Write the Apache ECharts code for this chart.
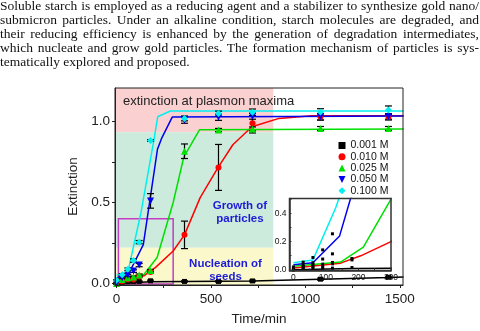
<!DOCTYPE html>
<html lang="en">
<head>
<meta charset="UTF-8">
<title>Extinction vs time</title>
<script src="https://cdn.jsdelivr.net/npm/echarts@6/dist/echarts.min.js"></script>
<style>
  body { margin: 0; background: #fff; }
  #wrap { position: relative; width: 480px; height: 331px; overflow: hidden; }
  #main { position: absolute; left: 0; top: 0; width: 480px; height: 331px; }
  #abstract { position: absolute; left: 0; top: -1px; width: 479px; font-family: "Liberation Serif", "DejaVu Serif", serif;
    font-size: 13.5px; line-height: 14px; color: #111; pointer-events: none; }
  #abstract div { white-space: nowrap; text-align: justify; text-align-last: justify; }
  #abstract div.last { text-align-last: left; }
</style>
</head>
<body>
<div id="wrap">
  <div id="main"></div>
  <div id="abstract">
    <div>Soluble starch is employed as a reducing agent and a stabilizer to synthesize gold nano/</div>
    <div>submicron particles. Under an alkaline condition, starch molecules are degraded, and</div>
    <div>their reducing efficiency is enhanced by the generation of degradation intermediates,</div>
    <div>which nucleate and grow gold particles. The formation mechanism of particles is sys-</div>
    <div class="last">tematically explored and proposed.</div>
  </div>
</div>
<script type="text/javascript">
// sampling times (min)
var times = [0, 30, 60, 90, 120, 180, 360, 540, 720, 1080, 1440];
var names = ['0.001 M', '0.010 M', '0.025 M', '0.050 M', '0.100 M'];

// measured extinction, one array per concentration
var ext001 = [0.0, 0.005, 0.010, 0.012, 0.012, 0.016, 0.012, 0.012, 0.015, 0.026, 0.038];
var ext010 = [0.0, 0.012, 0.024, 0.024, 0.042, 0.070, 0.300, 0.717, 0.990, 1.030, 1.030];
var ext025 = [0.0, 0.024, 0.035, 0.040, 0.052, 0.080, 0.817, 0.948, 0.955, 0.958, 0.958];
var ext050 = [0.0, 0.035, 0.050, 0.076, 0.113, 0.510, 1.010, 1.028, 1.035, 1.030, 1.030];
var ext100 = [0.02, 0.054, 0.087, 0.141, 0.255, 0.884, 1.020, 1.050, 1.058, 1.060, 1.072];

// error (half width)
var err001 = [0.003, 0.003, 0.003, 0.003, 0.003, 0.004, 0.004, 0.004, 0.005, 0.006, 0.006];
var err010 = [0.003, 0.004, 0.004, 0.005, 0.005, 0.006, 0.085, 0.142, 0.060, 0.020, 0.020];
var err025 = [0.003, 0.004, 0.004, 0.005, 0.006, 0.006, 0.045, 0.010, 0.012, 0.012, 0.012];
var err050 = [0.003, 0.005, 0.006, 0.008, 0.010, 0.045, 0.020, 0.020, 0.020, 0.020, 0.015];
var err100 = [0.003, 0.006, 0.008, 0.010, 0.010, 0.005, 0.015, 0.015, 0.020, 0.020, 0.025];

// fitted curves [time, extinction]
var fit001 = [[0, 0.0], [180, 0.010], [360, 0.012], [720, 0.015], [1080, 0.026], [1440, 0.037], [1520, 0.040]];
var fit010 = [[0, 0.012], [145, 0.047], [207, 0.099], [300, 0.20], [360, 0.30], [443, 0.53], [538, 0.717],
              [616, 0.857], [717, 0.968], [860, 1.020], [1033, 1.036], [1520, 1.037]];
var fit025 = [[0, 0.025], [145, 0.055], [215, 0.16], [300, 0.50], [356, 0.78], [440, 0.95], [1520, 0.955]];
var fit050 = [[0, 0.035], [60, 0.05], [142, 0.24], [217, 0.83], [240, 0.90], [295, 1.028], [1520, 1.035]];
var fit100 = [[0, 0.05], [60, 0.07], [130, 0.44], [200, 0.90], [218, 1.03], [285, 1.066], [1520, 1.066]];

// shaded stages and the zoomed box
var stageBreaks = [0.22, 0.935];
var stageEnd = 830;
var zoomBox = [10, 300, -0.004, 0.40];

var xMin = -8, xMax = 1517, yMin = -0.01, yMax = 1.208;

var colors = ['#000000', '#ff0000', '#00e000', '#0000f0', '#00f0f0'];
var symbols = ['rect', 'circle', 'triangle', 'path://M0,0L10,0L5,10Z', 'diamond'];
var sizes = [5, 6, 7, 7, 7];
var exts = [ext001, ext010, ext025, ext050, ext100];
var errs = [err001, err010, err025, err050, err100];
var fits = [fit001, fit010, fit025, fit050, fit100];

var myChart = echarts.init(document.getElementById('main'));

function renderErr(params, api) {
    var x = api.value(0);
    var hi = api.coord([x, api.value(2)]);
    var lo = api.coord([x, api.value(1)]);
    var w = 3.5;
    var st = { stroke: '#000', lineWidth: 1.2 };
    return {
        type: 'group',
        children: [
            { type: 'line', shape: { x1: hi[0], y1: hi[1], x2: lo[0], y2: lo[1] }, style: st },
            { type: 'line', shape: { x1: hi[0] - w, y1: hi[1], x2: hi[0] + w, y2: hi[1] }, style: st },
            { type: 'line', shape: { x1: lo[0] - w, y1: lo[1], x2: lo[0] + w, y2: lo[1] }, style: st }
        ]
    };
}

var series = [];
var insetPts = [];
for (var i = 0; i < 5; i++) {
    var line = {
        type: 'line', data: fits[i], showSymbol: false, silent: true, z: 2,
        lineStyle: { color: colors[i], width: 1.5 }
    };
    if (i === 0) {
        // background stages + magenta box
        line.markArea = {
            silent: true, label: { show: false },
            data: [
                [{ xAxis: xMin, yAxis: stageBreaks[1], itemStyle: { color: '#fbd0d0' } }, { xAxis: stageEnd, yAxis: yMax }],
                [{ xAxis: xMin, yAxis: stageBreaks[0], itemStyle: { color: '#cdebdc' } }, { xAxis: stageEnd, yAxis: stageBreaks[1] }],
                [{ xAxis: xMin, yAxis: yMin, itemStyle: { color: '#fbf8cc' } }, { xAxis: stageEnd, yAxis: stageBreaks[0] }],
                [{ xAxis: zoomBox[0], yAxis: zoomBox[2], itemStyle: { color: 'rgba(0,0,0,0)', borderColor: '#c43cc4', borderWidth: 1.5 } },
                 { xAxis: zoomBox[1], yAxis: zoomBox[3] }]
            ]
        };
    }
    series.push(line);
    series.push({
        type: 'custom', silent: true, z: 3,
        renderItem: renderErr,
        encode: { x: 0, y: [1, 2] },
        data: times.map(function (t, j) { return [t, exts[i][j] - errs[i][j], exts[i][j] + errs[i][j]]; })
    });
    series.push({
        type: 'scatter', name: names[i], z: 4, silent: true,
        symbol: symbols[i], symbolSize: sizes[i],
        itemStyle: { color: colors[i], opacity: 1 },
        data: times.map(function (t, j) { return [t, exts[i][j]]; })
    });
    // inset
    series.push({
        type: 'line', xAxisIndex: 1, yAxisIndex: 1, data: fits[i], showSymbol: false, silent: true, z: 2,
        lineStyle: { color: colors[i], width: 1.5 }
    });
    times.forEach(function (t, j) {
        if (t <= 300 && exts[i][j] <= 0.5) insetPts.push([t, exts[i][j]]);
    });
}
series.push({
    type: 'scatter', xAxisIndex: 1, yAxisIndex: 1, data: insetPts, silent: true, z: 4,
    symbol: 'rect', symbolSize: 3, itemStyle: { color: '#000', opacity: 1 }
});

var lab = { fontFamily: 'Liberation Sans', color: '#222' };

var option = {
    animation: false,
    grid: [
        { left: 115, top: 88, width: 288, height: 202.7, show: true, borderColor: '#222', borderWidth: 1, z: 5, backgroundColor: 'transparent' },
        { left: 289.5, top: 198.5, width: 101.5, height: 72, show: true, borderColor: '#333', borderWidth: 1.5, z: 5, backgroundColor: 'transparent' }
    ],
    xAxis: [
        {
            type: 'value', gridIndex: 0, min: xMin, max: xMax, z: 6,
            name: 'Time/min', nameLocation: 'middle', nameGap: 27,
            nameTextStyle: { fontFamily: 'Liberation Sans', fontSize: 13.5, color: '#222' },
            axisLine: { onZero: false, lineStyle: { color: '#222', width: 1 } },
            axisTick: { inside: false, length: 3, customValues: [0, 250, 500, 750, 1000, 1250, 1500], lineStyle: { color: '#222' } },
            axisLabel: Object.assign({ fontSize: 13.5, margin: 7, customValues: [0, 500, 1000, 1500],
                formatter: function (v) { return String(v); } }, lab),
            splitLine: { show: false }
        },
        {
            type: 'value', gridIndex: 1, min: -12, max: 300, z: 8,
            axisLine: { onZero: false, lineStyle: { color: '#333', width: 1.5 } },
            axisTick: { inside: true, length: 2, customValues: [0, 50, 100, 150, 200, 250, 300], lineStyle: { color: '#333' } },
            axisLabel: { fontFamily: 'Liberation Sans', color: '#111', fontSize: 8.5, margin: 3, customValues: [0, 100, 200, 300],
                hideOverlap: false, formatter: function (v) { return String(v); } },
            splitLine: { show: false }
        }
    ],
    yAxis: [
        {
            type: 'value', gridIndex: 0, min: yMin, max: yMax, z: 6,
            name: 'Extinction', nameLocation: 'middle', nameGap: 33.5,
            nameTextStyle: { fontFamily: 'Liberation Sans', fontSize: 13.5, color: '#222' },
            axisLine: { onZero: false, lineStyle: { color: '#222', width: 1 } },
            axisTick: { inside: false, length: 3, customValues: [0, 0.25, 0.5, 0.75, 1.0], lineStyle: { color: '#222' } },
            axisLabel: Object.assign({ fontSize: 13.5, margin: 5, customValues: [0, 0.5, 1.0],
                formatter: function (v) { return v.toFixed(1); } }, lab),
            splitLine: { show: false }
        },
        {
            type: 'value', gridIndex: 1, min: -0.005, max: 0.505, z: 8,
            axisLine: { onZero: false, lineStyle: { color: '#333', width: 1.5 } },
            axisTick: { inside: true, length: 2, customValues: [0, 0.1, 0.2, 0.3, 0.4, 0.5], lineStyle: { color: '#333' } },
            axisLabel: { fontFamily: 'Liberation Sans', color: '#111', fontSize: 8.5, margin: 3, customValues: [0, 0.2, 0.4],
                formatter: function (v) { return v.toFixed(1); } },
            splitLine: { show: false }
        }
    ],
    legend: {
        orient: 'vertical', left: 338.5, top: 140,
        itemWidth: 7, itemHeight: 7, itemGap: 0.3,
        textStyle: { fontFamily: 'Liberation Sans', fontSize: 10.5, color: '#111', padding: 0 },
        padding: 0,
        data: names.map(function (n, i) { return { name: n, icon: symbols[i] }; })
    },
    graphic: [
        { type: 'text', z: 10, style: { x: 123, y: 101, text: 'extinction at plasmon maxima', fill: '#222',
            font: '13px "Liberation Sans"', verticalAlign: 'middle' } },
        { type: 'text', z: 10, style: { x: 240, y: 212.5, text: 'Growth of\nparticles', fill: '#1c1cd8',
            font: 'bold 11.5px "Liberation Sans"', align: 'center', verticalAlign: 'middle', lineHeight: 13.3 } },
        { type: 'text', z: 10, style: { x: 225.5, y: 270, text: 'Nucleation of\nseeds', fill: '#1c1cd8',
            font: 'bold 11.5px "Liberation Sans"', align: 'center', verticalAlign: 'middle', lineHeight: 13 } }
    ],
    series: series
};

myChart.setOption(option);
</script>
</body>
</html>
